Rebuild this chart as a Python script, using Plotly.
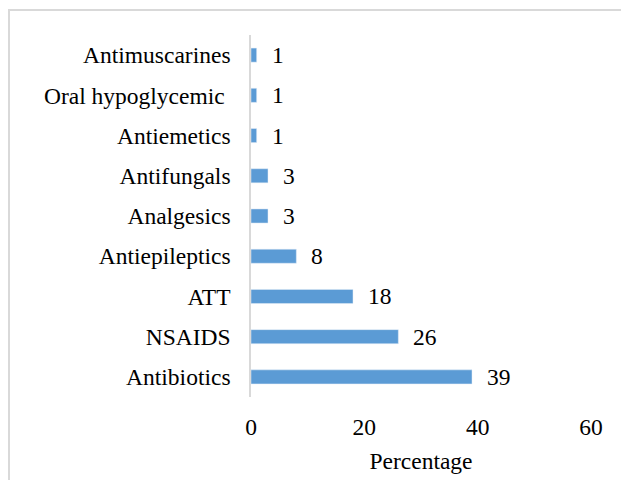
import plotly.graph_objects as go

categories = ["Antibiotics", "NSAIDS", "ATT", "Antiepileptics", "Analgesics",
              "Antifungals", "Antiemetics", "Oral hypoglycemic\u00a0", "Antimuscarines"]
values = [39, 26, 18, 8, 3, 3, 1, 1, 1]
x_ticks = [0, 20, 40, 60]

FONT = "Liberation Serif, Times New Roman, serif"
FS = 23.5

fig = go.Figure(go.Bar(
    x=values, y=categories, orientation="h",
    marker_color="#5b9bd5", width=0.35,
))

for v, c in zip(values, categories):
    fig.add_annotation(x=v, y=c, text=str(v), showarrow=False,
                       xanchor="left", xshift=13,
                       font=dict(family=FONT, size=FS, color="#000"))

fig.add_shape(type="rect", xref="paper", yref="paper",
              x0=-0.7118, x1=2, y0=-2, y1=1.0690,
              line=dict(color="#d9d9d9", width=2), fillcolor="rgba(0,0,0,0)",
              layer="below")

fig.update_layout(
    width=629, height=480,
    margin=dict(l=243, r=46, t=27, b=91),
    plot_bgcolor="white", paper_bgcolor="white",
    showlegend=False,
    font=dict(family=FONT, size=FS, color="#000"),
    xaxis=dict(range=[0, 60], tickvals=x_ticks, showgrid=False, zeroline=False,
               showline=False, ticks="", ticklabelstandoff=13,
               title=dict(text="Percentage", standoff=14,
                          font=dict(family=FONT, size=FS))),
    yaxis=dict(categoryorder="array", categoryarray=categories,
               showgrid=False, zeroline=False, showline=True,
               linecolor="#d9d9d9", linewidth=1.5, ticks="",
               ticklabelstandoff=14),
)

fig.write_html("out.html")
